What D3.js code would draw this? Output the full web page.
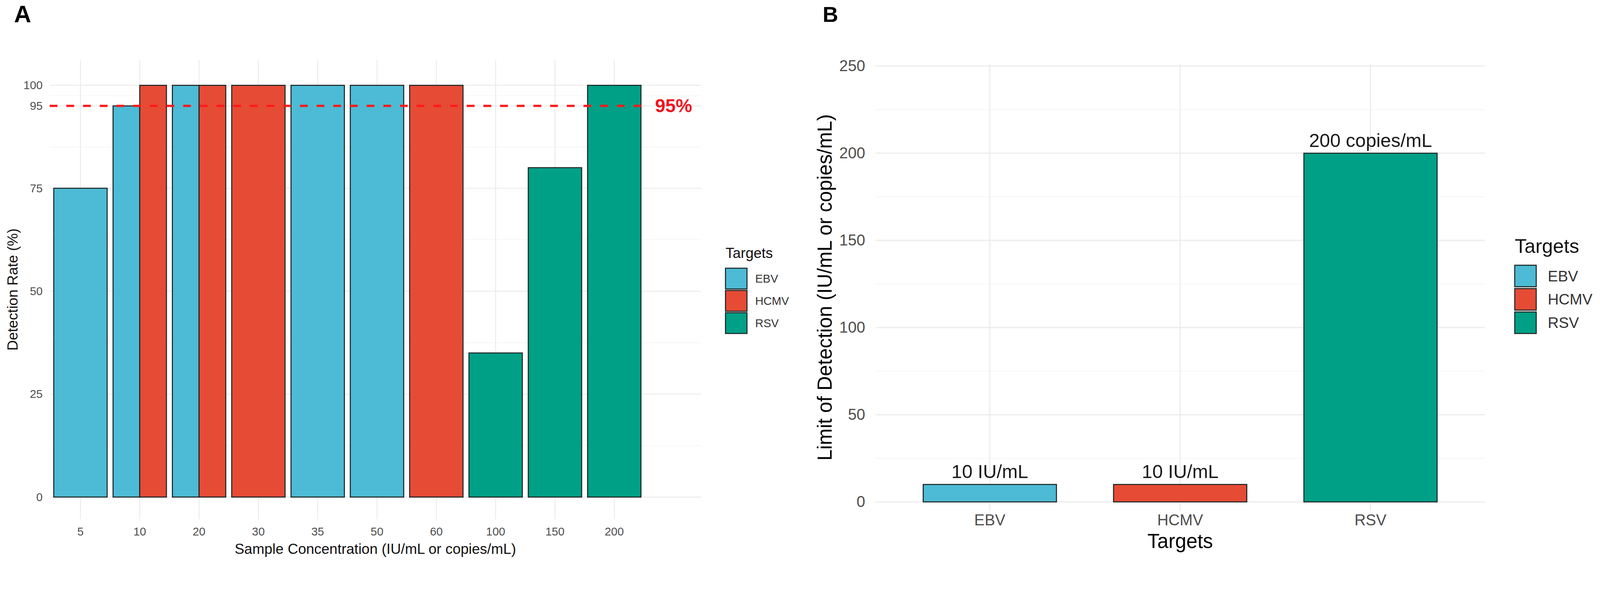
<!DOCTYPE html>
<html>
<head>
<meta charset="utf-8">
<script src="https://cdn.jsdelivr.net/npm/d3@7"></script>
<style>
    html, body { margin: 0; padding: 0; overflow: hidden; background: #ffffff; }
    svg { display: block; width: 100vw; height: 100vh; font-family: "Liberation Sans", Arial, sans-serif; }
</style>
</head>
<body>
<svg id="chart" viewBox="0 0 4316 1512" preserveAspectRatio="xMinYMin meet"></svg>
<script>

// panel A data
const concLabels = ["5", "10", "20", "30", "35", "50", "60", "100", "150", "200"];
const rateConc = ["5", "10", "10", "20", "20", "30", "35", "50", "60", "100", "150", "200"];
const rateTarget = ["EBV", "EBV", "HCMV", "EBV", "HCMV", "HCMV", "EBV", "EBV", "HCMV", "RSV", "RSV", "RSV"];
const rateValue = [75, 95, 100, 100, 100, 100, 100, 100, 100, 35, 80, 100];
const rateTicks = [0, 25, 50, 75, 95, 100];
const thresholdValue = 95;
const thresholdLabel = "95%";

// panel B data
const lodTargets = ["EBV", "HCMV", "RSV"];
const lodValue = [10, 10, 200];
const lodLabel = ["10 IU/mL", "10 IU/mL", "200 copies/mL"];
const lodTicks = [0, 50, 100, 150, 200, 250];

// shared
const targets = ["EBV", "HCMV", "RSV"];
const targetColors = ["#4DBBD5", "#E64B35", "#00A087"];

const svg = d3.select("#chart");
const fill = d3.scaleOrdinal().domain(targets).range(targetColors);
const barStroke = "#1c2626";

function minorTicks(ticks) {
    return d3.pairs(ticks).map(p => (p[0] + p[1]) / 2);
}

function drawLegend(g, opts) {
    g.append("text")
        .attr("x", 0)
        .attr("y", 0)
        .attr("font-size", opts.titleSize)
        .attr("fill", "#111")
        .text("Targets");

    const item = g.selectAll(".legendItem")
        .data(targets)
        .join("g")
        .attr("class", "legendItem")
        .attr("transform", (d, i) => "translate(0," + (opts.keyTop + i * opts.pitch) + ")");

    item.append("rect")
        .attr("width", opts.keyW)
        .attr("height", opts.keyH)
        .attr("fill", d => fill(d))
        .attr("stroke", barStroke)
        .attr("stroke-width", 2.8);

    item.append("text")
        .attr("x", opts.labelX)
        .attr("y", opts.keyH / 2)
        .attr("dominant-baseline", "central")
        .attr("font-size", opts.labelSize)
        .attr("fill", "#333")
        .text(d => d);
}

//---------------- panel A ----------------
function drawPanelA() {
    const left = 134, right = 1891;
    const y = d3.scaleLinear().domain([0, 100]).range([1340, 230]);
    const top = y(106.2), bottom = y(-5.4);
    const x = d3.scaleBand()
        .domain(concLabels)
        .range([137, 1737])
        .paddingInner(0.1)
        .paddingOuter(0.05);

    const g = svg.append("g").attr("class", "panelA");

    // grid
    g.selectAll(".minorA")
        .data(minorTicks(rateTicks))
        .join("line")
        .attr("x1", left).attr("x2", right)
        .attr("y1", d => y(d)).attr("y2", d => y(d))
        .attr("stroke", "#f3f3f3").attr("stroke-width", 1.5);

    g.selectAll(".majorA")
        .data(rateTicks)
        .join("line")
        .attr("x1", left).attr("x2", right)
        .attr("y1", d => y(d)).attr("y2", d => y(d))
        .attr("stroke", "#ebebeb").attr("stroke-width", 2.5);

    g.selectAll(".vgridA")
        .data(concLabels)
        .join("line")
        .attr("x1", d => x(d) + x.bandwidth() / 2).attr("x2", d => x(d) + x.bandwidth() / 2)
        .attr("y1", top).attr("y2", bottom)
        .attr("stroke", "#ebebeb").attr("stroke-width", 2.5);

    // bars, dodged when a concentration has more than one target
    const rows = rateValue.map((v, i) => ({conc: rateConc[i], target: rateTarget[i], value: v}));
    const groups = d3.group(rows, d => d.conc);

    rows.forEach(d => {
        const inner = d3.scaleBand()
            .domain(groups.get(d.conc).map(r => r.target))
            .range([0, x.bandwidth()]);
        d.x0 = x(d.conc) + inner(d.target);
        d.w = inner.bandwidth();
    });

    g.selectAll(".barA")
        .data(rows)
        .join("rect")
        .attr("class", "barA")
        .attr("x", d => d.x0)
        .attr("width", d => d.w)
        .attr("y", d => y(d.value))
        .attr("height", d => y(0) - y(d.value))
        .attr("fill", d => fill(d.target))
        .attr("stroke", barStroke)
        .attr("stroke-width", 2.8);

    // 95% threshold
    const lastBand = x(concLabels[concLabels.length - 1]);
    g.append("line")
        .attr("x1", left)
        .attr("x2", lastBand + x.bandwidth())
        .attr("y1", y(thresholdValue))
        .attr("y2", y(thresholdValue))
        .attr("stroke", "#ff1a1a")
        .attr("stroke-width", 6)
        .attr("stroke-dasharray", "21,24");

    g.append("text")
        .attr("x", lastBand + x.bandwidth() / 2 + x.step())
        .attr("y", y(thresholdValue))
        .attr("text-anchor", "middle")
        .attr("dominant-baseline", "central")
        .attr("font-size", 50)
        .attr("font-weight", "bold")
        .attr("fill", "#f0141e")
        .text(thresholdLabel);

    // axes
    const yAxis = g.append("g")
        .attr("transform", "translate(" + left + ",0)")
        .call(d3.axisLeft(y).tickValues(rateTicks).tickSize(0).tickPadding(19));
    yAxis.select(".domain").remove();
    yAxis.selectAll("text")
        .attr("font-size", 31)
        .attr("font-family", "Liberation Sans, Arial, sans-serif")
        .attr("fill", "#4d4d4d");

    const xAxis = g.append("g")
        .attr("transform", "translate(0," + bottom + ")")
        .call(d3.axisBottom(x).tickSize(0).tickPadding(22));
    xAxis.select(".domain").remove();
    xAxis.selectAll("text")
        .attr("font-size", 31)
        .attr("font-family", "Liberation Sans, Arial, sans-serif")
        .attr("fill", "#4d4d4d");

    g.append("text")
        .attr("x", (left + right) / 2)
        .attr("y", 1493)
        .attr("text-anchor", "middle")
        .attr("font-size", 39)
        .attr("fill", "#111")
        .text("Sample Concentration (IU/mL or copies/mL)");

    g.append("text")
        .attr("transform", "translate(47," + ((top + bottom) / 2) + ") rotate(-90)")
        .attr("text-anchor", "middle")
        .attr("font-size", 39)
        .attr("fill", "#111")
        .text("Detection Rate (%)");

    drawLegend(g.append("g").attr("transform", "translate(1957,695)"),
        {titleSize: 39, labelSize: 31, keyTop: 28, pitch: 60, keyW: 58, keyH: 56, labelX: 80});

    svg.append("text")
        .attr("x", 38).attr("y", 60)
        .attr("font-size", 64)
        .attr("font-weight", "bold")
        .text("A");
}

//---------------- panel B ----------------
function drawPanelB() {
    const left = 2362, right = 4005;
    const y = d3.scaleLinear().domain([0, 250]).range([1353, 178]);
    const top = y(251), bottom = y(-5);
    const x = d3.scaleBand()
        .domain(lodTargets)
        .range([left, right])
        .paddingInner(0.3)
        .paddingOuter(0.25);

    const g = svg.append("g").attr("class", "panelB");

    g.selectAll(".minorB")
        .data(minorTicks(lodTicks))
        .join("line")
        .attr("x1", left).attr("x2", right)
        .attr("y1", d => y(d)).attr("y2", d => y(d))
        .attr("stroke", "#f3f3f3").attr("stroke-width", 1.8);

    g.selectAll(".majorB")
        .data(lodTicks)
        .join("line")
        .attr("x1", left).attr("x2", right)
        .attr("y1", d => y(d)).attr("y2", d => y(d))
        .attr("stroke", "#ebebeb").attr("stroke-width", 3);

    g.selectAll(".vgridB")
        .data(lodTargets)
        .join("line")
        .attr("x1", d => x(d) + x.bandwidth() / 2).attr("x2", d => x(d) + x.bandwidth() / 2)
        .attr("y1", top).attr("y2", bottom)
        .attr("stroke", "#ebebeb").attr("stroke-width", 3);

    const rows = lodValue.map((v, i) => ({target: lodTargets[i], value: v, label: lodLabel[i]}));

    g.selectAll(".barB")
        .data(rows)
        .join("rect")
        .attr("class", "barB")
        .attr("x", d => x(d.target))
        .attr("width", x.bandwidth())
        .attr("y", d => y(d.value))
        .attr("height", d => y(0) - y(d.value))
        .attr("fill", d => fill(d.target))
        .attr("stroke", barStroke)
        .attr("stroke-width", 2.8);

    g.selectAll(".barLabel")
        .data(rows)
        .join("text")
        .attr("class", "barLabel")
        .attr("x", d => x(d.target) + x.bandwidth() / 2)
        .attr("y", d => y(d.value) - 17)
        .attr("text-anchor", "middle")
        .attr("font-size", 51)
        .attr("fill", "#1a1a1a")
        .text(d => d.label);

    const yAxis = g.append("g")
        .attr("transform", "translate(" + left + ",0)")
        .call(d3.axisLeft(y).tickValues(lodTicks).tickSize(0).tickPadding(28));
    yAxis.select(".domain").remove();
    yAxis.selectAll("text")
        .attr("font-size", 42)
        .attr("font-family", "Liberation Sans, Arial, sans-serif")
        .attr("fill", "#4d4d4d");

    const xAxis = g.append("g")
        .attr("transform", "translate(0," + bottom + ")")
        .call(d3.axisBottom(x).tickSize(0).tickPadding(10));
    xAxis.select(".domain").remove();
    xAxis.selectAll("text")
        .attr("font-size", 42)
        .attr("font-family", "Liberation Sans, Arial, sans-serif")
        .attr("fill", "#4d4d4d");

    g.append("text")
        .attr("x", (left + right) / 2)
        .attr("y", 1477)
        .attr("text-anchor", "middle")
        .attr("font-size", 54)
        .attr("fill", "#000")
        .text("Targets");

    g.append("text")
        .attr("transform", "translate(2243," + ((top + bottom) / 2) + ") rotate(-90)")
        .attr("text-anchor", "middle")
        .attr("font-size", 54)
        .attr("fill", "#000")
        .text("Limit of Detection (IU/mL or copies/mL)");

    drawLegend(g.append("g").attr("transform", "translate(4086,682)"),
        {titleSize: 53, labelSize: 41, keyTop: 33, pitch: 63, keyW: 58, keyH: 58, labelX: 89});

    svg.append("text")
        .attr("x", 2219).attr("y", 59)
        .attr("font-size", 58)
        .attr("font-weight", "bold")
        .text("B");
}

drawPanelA();
drawPanelB();

</script>
</body>
</html>
